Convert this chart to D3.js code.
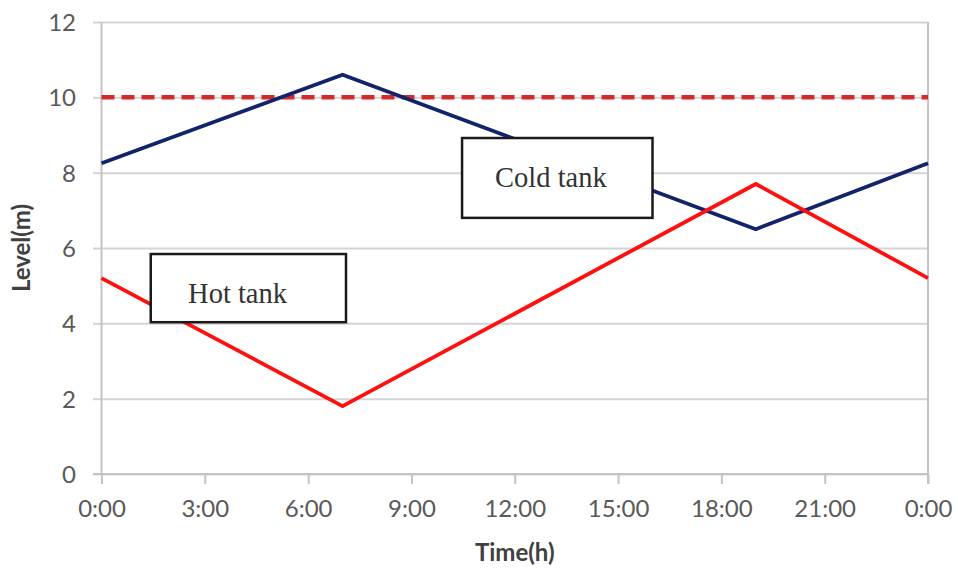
<!DOCTYPE html>
<html>
<head>
<meta charset="utf-8">
<script src="https://cdn.jsdelivr.net/npm/d3@7/dist/d3.min.js"></script>
<style>
  html, body { margin: 0; padding: 0; background: #fff; }
  svg { display: block; }
</style>
</head>
<body>
<svg id="chart" width="958" height="571"></svg>
<script>
// Tank levels over one day (hours since midnight)
const hours = [0, 7, 19, 24];
const coldLevel = [8.25, 10.6, 6.5, 8.25];
const hotLevel = [5.2, 1.8, 7.7, 5.2];
const limitLevel = 10;

const timeTicks = [0, 3, 6, 9, 12, 15, 18, 21, 24];
const timeTickLabels = ["0:00", "3:00", "6:00", "9:00", "12:00", "15:00", "18:00", "21:00", "0:00"];
const levelTicks = [0, 2, 4, 6, 8, 10, 12];

// Annotation boxes, in data units: [hourStart, hourEnd, levelTop, levelBottom]
const coldBox = { text: "Cold tank", x0: 10.47, x1: 16.0, y0: 8.92, y1: 6.8, tx: 13.05, ty: 7.62 };
const hotBox = { text: "Hot tank", x0: 1.43, x1: 7.1, y0: 5.84, y1: 4.03, tx: 3.95, ty: 4.55 };

const W = 958, H = 571;
const margin = { top: 22, right: 30, bottom: 97, left: 101.5 };

const svg = d3.select("#chart");
const x = d3.scaleLinear().domain([0, 24]).range([margin.left, W - margin.right]);
const y = d3.scaleLinear().domain([0, 12]).range([H - margin.bottom, margin.top]);

const gridColor = "#d4d4d4";
const axisColor = "#c4c4c4";

// Horizontal gridlines with left tick stubs
svg.append("g")
  .attr("transform", `translate(${margin.left},0)`)
  .call(d3.axisLeft(y).tickValues(levelTicks).tickSize(8.5).tickFormat(d => d).tickPadding(17))
  .call(g => g.select(".domain").remove())
  .call(g => g.selectAll(".tick line").clone()
      .attr("x2", x(24) - margin.left))
  .call(g => g.selectAll(".tick line").attr("stroke", gridColor).attr("stroke-width", 2))
  .call(g => g.selectAll(".tick text")
      .attr("fill", "#595959")
      .attr("font-family", "Lato, 'Open Sans', sans-serif")
      .attr("font-size", 24)
      .attr("dy", "0.36em"));

// Bottom axis with downward ticks
svg.append("g")
  .attr("transform", `translate(0,${y(0)})`)
  .call(d3.axisBottom(x).tickValues(timeTicks).tickSize(10).tickPadding(10)
      .tickFormat((d, i) => timeTickLabels[i]))
  .call(g => g.select(".domain").remove())
  .call(g => g.selectAll(".tick line").attr("stroke", axisColor).attr("stroke-width", 2))
  .call(g => g.selectAll(".tick text")
      .attr("fill", "#595959")
      .attr("font-family", "Lato, 'Open Sans', sans-serif")
      .attr("font-size", 24)
      .attr("dy", "0.95em"));

// Plot frame: left, bottom and right edges
svg.append("line")
  .attr("x1", x(0)).attr("x2", x(0)).attr("y1", y(12)).attr("y2", y(0))
  .attr("stroke", axisColor).attr("stroke-width", 2);
svg.append("line")
  .attr("x1", x(24)).attr("x2", x(24)).attr("y1", y(12)).attr("y2", y(0) + 10)
  .attr("stroke", axisColor).attr("stroke-width", 2);
svg.append("line")
  .attr("x1", x(0) - 8.5).attr("x2", x(24)).attr("y1", y(0)).attr("y2", y(0))
  .attr("stroke", axisColor).attr("stroke-width", 2);

// Maximum level limit
svg.append("line")
  .attr("x1", x(0)).attr("x2", x(24))
  .attr("y1", y(limitLevel)).attr("y2", y(limitLevel))
  .attr("stroke", "#d42a2a").attr("stroke-width", 4.5)
  .attr("stroke-dasharray", "13 7");

const line = d3.line().x(d => x(d[0])).y(d => y(d[1]));

svg.append("path")
  .datum(hours.map((h, i) => [h, coldLevel[i]]))
  .attr("d", line)
  .attr("fill", "none").attr("stroke", "#13236b").attr("stroke-width", 3.8)
  .attr("stroke-linejoin", "miter");

svg.append("path")
  .datum(hours.map((h, i) => [h, hotLevel[i]]))
  .attr("d", line)
  .attr("fill", "none").attr("stroke", "#ff1010").attr("stroke-width", 3.8)
  .attr("stroke-linejoin", "miter");

// Labelled boxes
[coldBox, hotBox].forEach(b => {
  svg.append("rect")
    .attr("x", x(b.x0)).attr("y", y(b.y0))
    .attr("width", x(b.x1) - x(b.x0)).attr("height", y(b.y1) - y(b.y0))
    .attr("fill", "#fff").attr("stroke", "#1a1a1a").attr("stroke-width", 2.5);
  svg.append("text")
    .attr("x", x(b.tx)).attr("y", y(b.ty))
    .attr("text-anchor", "middle")
    .attr("font-family", "'Liberation Serif', 'DejaVu Serif', serif")
    .attr("font-size", 28.5)
    .attr("fill", "#333")
    .text(b.text);
});

// Axis titles
svg.append("text")
  .attr("x", (x(0) + x(24)) / 2).attr("y", 561)
  .attr("text-anchor", "middle")
  .attr("font-family", "Lato, 'Open Sans', sans-serif")
  .attr("font-weight", "bold").attr("font-size", 24)
  .attr("fill", "#404040")
  .text("Time(h)");

svg.append("text")
  .attr("transform", `translate(30,${(y(0) + y(12)) / 2}) rotate(-90)`)
  .attr("text-anchor", "middle")
  .attr("font-family", "Lato, 'Open Sans', sans-serif")
  .attr("font-weight", "bold").attr("font-size", 24)
  .attr("fill", "#404040")
  .text("Level(m)");
</script>
</body>
</html>
